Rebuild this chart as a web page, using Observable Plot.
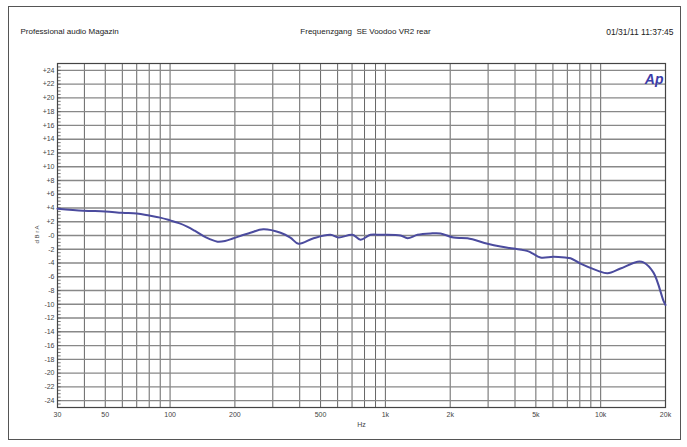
<!DOCTYPE html>
<html>
<head>
<meta charset="utf-8">
<script src="https://cdn.jsdelivr.net/npm/d3@7"></script>
<script src="https://cdn.jsdelivr.net/npm/@observablehq/plot@0.6"></script>
<style>
  html, body { margin: 0; padding: 0; background: #fff; }
  svg { display: block; }
</style>
</head>
<body>
<div id="chart"></div>
<script>
// Frequency response data (Hz, dB)
const freqHz = [30, 39.6, 50, 60, 70, 80, 90, 100, 110, 120, 130, 143, 152, 166, 180, 197, 236, 271, 326, 362, 395, 464, 556, 606, 703, 766, 853, 948, 1176, 1267, 1410, 1620, 1803, 2073, 2407, 2983, 3427, 3936, 4620, 4820, 5250, 6040, 6830, 7245, 8060, 9660, 10760, 12360, 14820, 15800, 17590, 19580, 20000];
const levelDb = [3.9, 3.6, 3.5, 3.3, 3.2, 2.9, 2.6, 2.2, 1.8, 1.3, 0.7, -0.1, -0.5, -0.9, -0.8, -0.4, 0.4, 0.9, 0.4, -0.3, -1.2, -0.4, 0.1, -0.3, 0.1, -0.6, 0.1, 0.1, 0.0, -0.4, 0.1, 0.3, 0.3, -0.3, -0.4, -1.2, -1.6, -1.9, -2.3, -2.6, -3.2, -3.1, -3.2, -3.3, -4.1, -5.1, -5.5, -4.8, -3.8, -3.9, -5.4, -9.5, -10.1];

const xTickValues = [30, 50, 100, 200, 500, 1000, 2000, 5000, 10000, 20000];
const xTickLabels = ["30", "50", "100", "200", "500", "1k", "2k", "5k", "10k", "20k"];
const xGrid = [40, 50, 60, 70, 80, 90, 100, 200, 300, 400, 500, 600, 700, 800, 900, 1000, 2000, 3000, 4000, 5000, 6000, 7000, 8000, 9000, 10000];
const yTickValues = d3.range(-24, 25, 2);
const yMinor = d3.range(-25, 25.01, 0.5);

const headerLeft = "Professional audio Magazin";
const headerCenter = "Frequenzgang  SE Voodoo VR2 rear";
const headerRight = "01/31/11 11:37:45";

const data = freqHz.map((f, i) => ({f, db: levelDb[i]}));
const xLabels = xTickValues.map((v, i) => ({v, label: xTickLabels[i]}));
const fmtY = d => d > 0 ? "+" + d : (d === 0 ? "-0" : String(d));

const chart = Plot.plot({
  width: 687,
  height: 447,
  marginLeft: 57,
  marginRight: 22,
  marginTop: 63,
  marginBottom: 40,
  style: {fontFamily: "'Liberation Sans', Arial, sans-serif", fontSize: "7px", color: "#333", background: "#fff"},
  x: {type: "log", domain: [30, 20000], label: null, axis: null},
  y: {domain: [-25, 25], label: null},
  marks: [
    Plot.ruleX(xGrid, {stroke: "#666", strokeWidth: 1}),
    Plot.ruleY(yTickValues, {stroke: "#888", strokeWidth: 1.4}),
    Plot.ruleY(yMinor, {x1: 30, x2: 31.2, stroke: "#555", strokeWidth: 0.8}),
    Plot.frame({stroke: "#444", strokeWidth: 1.2}),
    Plot.text(xLabels, {x: "v", text: "label", frameAnchor: "bottom", dy: 9, fill: "#444", fontSize: 7}),
    Plot.axisY(yTickValues, {tickSize: 0, tickPadding: 3, tickFormat: fmtY, fill: "#444"}),
    Plot.line(data, {x: "f", y: "db", curve: "catmull-rom", stroke: "#4b4b9e", strokeWidth: 2}),
    Plot.text(["Hz"], {frameAnchor: "bottom", dy: 19, fill: "#444", fontSize: 7}),
    Plot.text(["d B r A"], {frameAnchor: "left", dx: -20, dy: 8, rotate: -90, fill: "#444", fontSize: 6}),
    Plot.text([headerLeft], {frameAnchor: "top-left", dx: -37, dy: -35, textAnchor: "start", fill: "#222", fontSize: 8}),
    Plot.text([headerCenter], {frameAnchor: "top", dx: 4, dy: -35, fill: "#222", fontSize: 8}),
    Plot.text([headerRight], {frameAnchor: "top-right", dx: 8, dy: -35, textAnchor: "end", fill: "#222", fontSize: 8.5}),
    Plot.text(["Ap"], {frameAnchor: "top-right", dx: -2, dy: 11, textAnchor: "end", fill: "#3c3ca8", fontSize: 14, fontWeight: "bold", fontStyle: "italic"})
  ]
});

// outer border of the printout
d3.select(chart).insert("rect", ":first-child")
  .attr("x", 8.5).attr("y", 6.5).attr("width", 672).attr("height", 433)
  .attr("fill", "none").attr("stroke", "#555").attr("stroke-width", 1);

document.getElementById("chart").appendChild(chart);
</script>
</body>
</html>
